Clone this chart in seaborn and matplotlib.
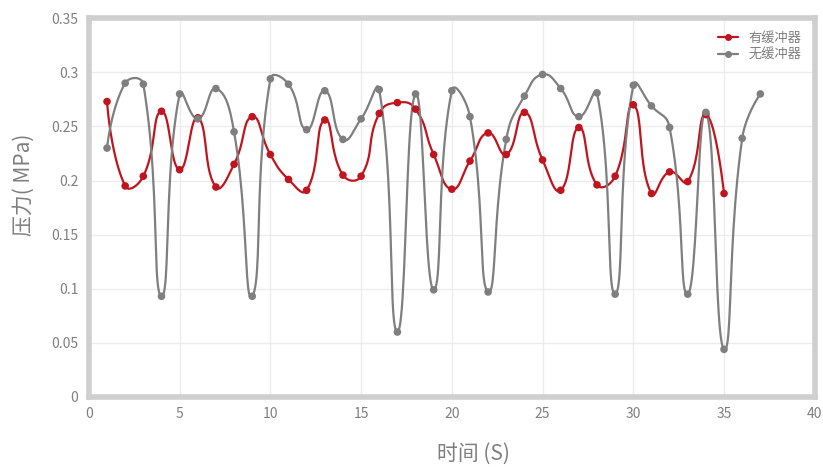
import numpy as np
import pandas as pd
import matplotlib
matplotlib.use("Agg")
import matplotlib.pyplot as plt
import seaborn as sns

# data
time_buffer = list(range(1, 36))
p_buffer = [0.273, 0.195, 0.204, 0.264, 0.210, 0.258, 0.194, 0.215, 0.259, 0.224,
            0.201, 0.191, 0.256, 0.205, 0.204, 0.262, 0.272, 0.266, 0.224, 0.192,
            0.218, 0.244, 0.224, 0.263, 0.219, 0.191, 0.249, 0.196, 0.204, 0.270,
            0.188, 0.208, 0.199, 0.261, 0.188]

time_nobuf = list(range(1, 38))
p_nobuf = [0.230, 0.290, 0.289, 0.093, 0.280, 0.257, 0.285, 0.245, 0.093, 0.294,
           0.289, 0.247, 0.283, 0.238, 0.257, 0.284, 0.060, 0.280, 0.099, 0.283,
           0.259, 0.097, 0.238, 0.278, 0.298, 0.285, 0.259, 0.281, 0.095, 0.288,
           0.269, 0.249, 0.095, 0.263, 0.044, 0.239, 0.280]

series_names = ["有缓冲器", "无缓冲器"]
colors = ["#c0141e", "#7f7f7f"]


def smooth(ax, x, y, s=0.5, n=24):
    # bezier smoothing in screen space (control points scaled by segment lengths)
    pts = ax.transData.transform(np.column_stack([x, y]))
    m = len(pts)
    cin = pts.copy()
    cout = pts.copy()
    for i in range(1, m - 1):
        prev, p, nxt = pts[i - 1], pts[i], pts[i + 1]
        v = nxt - prev
        d0 = np.hypot(*(p - prev))
        d1 = np.hypot(*(nxt - p))
        r = d1 / (d0 + d1)
        cin[i] = p - v * s * (1 - r)
        cout[i] = p + v * s * r
    t = np.linspace(0, 1, n, endpoint=False)[:, None]
    out = []
    for i in range(m - 1):
        p0, p1, p2, p3 = pts[i], cout[i], cin[i + 1], pts[i + 1]
        out.append((1 - t) ** 3 * p0 + 3 * (1 - t) ** 2 * t * p1
                   + 3 * (1 - t) * t ** 2 * p2 + t ** 3 * p3)
    out.append(pts[-1:])
    data = ax.transData.inverted().transform(np.vstack(out))
    return data[:, 0], data[:, 1]


sns.set_style("white")
plt.rcParams["font.family"] = ["Noto Sans CJK SC", "DejaVu Sans"]

fig = plt.figure(figsize=(8.23, 4.67), dpi=100)
ax = fig.add_axes([0.108, 0.150, 0.882, 0.811])
ax.set_xlim(0, 40)
ax.set_ylim(0, 0.35)

for name, xs, ys, c in [(series_names[0], time_buffer, p_buffer, colors[0]),
                        (series_names[1], time_nobuf, p_nobuf, colors[1])]:
    sx, sy = smooth(ax, xs, ys)
    sns.lineplot(x=sx, y=sy, ax=ax, color=c, lw=1.6, sort=False, zorder=3)
    sns.scatterplot(x=xs, y=ys, ax=ax, color=c, s=30, edgecolor="none", zorder=4)
    ax.plot([], [], color=c, lw=1.6, marker="o", ms=4, label=name)

ax.set_xlim(0, 40)
ax.set_ylim(0, 0.35)
ax.set_xticks(range(0, 41, 5))
ax.set_yticks([0, 0.05, 0.1, 0.15, 0.2, 0.25, 0.3, 0.35])
ax.set_yticklabels(["0", "0.05", "0.1", "0.15", "0.2", "0.25", "0.3", "0.35"])
ax.grid(True, color="#ececec", lw=1)
ax.set_axisbelow(True)

for s in ax.spines.values():
    s.set_color("#cfcfcf")
    s.set_linewidth(4)

ax.tick_params(axis="both", colors="#cfcfcf", length=4, width=1,
               labelcolor="#7f7f7f", labelsize=10)
ax.set_xlabel("时间 (S)", fontsize=15, color="#7f7f7f")
ax.set_ylabel("压力( MPa)", fontsize=15, color="#7f7f7f")
ax.xaxis.set_label_coords(0.53, -0.12)
ax.yaxis.set_label_coords(-0.075, 0.56)

leg = ax.legend(loc="upper right", frameon=False, fontsize=9.5,
                handlelength=1.5, labelspacing=0.3, borderaxespad=0.6)
for t in leg.get_texts():
    t.set_color("#7f7f7f")

fig.savefig("out.png", dpi=100)
